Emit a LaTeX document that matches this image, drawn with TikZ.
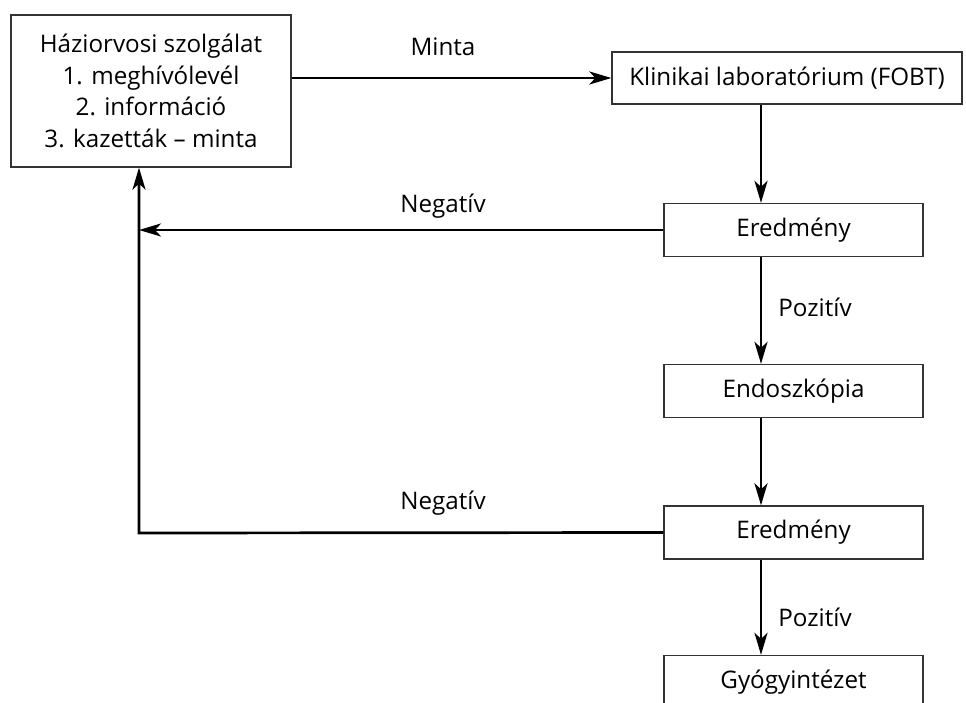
\documentclass[tikz,border=0pt]{standalone}
\usepackage{fontspec}
\setmainfont{Open Sans}
\usetikzlibrary{arrows.meta,positioning}
\tikzset{
    >={Stealth[length=22pt,width=13pt,inset=6pt]},
    doboz/.style={
           rectangle,
           draw=black!80, line width=1.3pt,
           minimum width=259pt,
           minimum height=53pt,
           inner sep=0pt,
           text centered},
    pil/.style={
           ->,
           line width=2.7pt},
    felirat/.style={
           inner sep=0pt}
}

\begin{document}
\begin{tikzpicture}[x=1pt, y=-1pt, font=\fontsize{24.2}{31.5}\selectfont]
        \clip (0,0) rectangle (966,703);
        \node[doboz, minimum width=280pt, minimum height=152pt, align=center] (haz) at (151,91)
            {Háziorvosi szolgálat\\1. meghívólevél\\2. információ\\3. kazetták -- minta};
        \node[doboz, minimum width=350pt, minimum height=52pt] (lab) at (787,78) {Klinikai laboratórium (FOBT)};
        \node[doboz] (ered1) at (793.5,230) {Eredmény};
        \node[doboz] (endo) at (793.5,391) {Endoszkópia};
        \node[doboz] (ered2) at (793.5,532.5) {Eredmény};
        \node[doboz] (gyogy) at (793.5,682) {Gyógyintézet};

        \coordinate (gerinc) at (761,0);
        \coordinate (vissza) at (139,533);

        \node[felirat] (minta) at (443,47) {Minta};
        \node[felirat] (neg1) at (443,206) {Negatív};
        \node[felirat] (neg2) at (443,503) {Negatív};
        \node[felirat] (poz1) at (815,307) {Pozitív};
        \node[felirat] (poz2) at (815,617) {Pozitív};

        \draw[pil] (haz.east |- lab.west) -- (lab.west);
        \draw[pil] (lab.south -| gerinc) -- (ered1.north -| gerinc);
        \draw[pil] (ered1.south -| gerinc) -- (endo.north -| gerinc);
        \draw[pil] (endo.south -| gerinc) -- (ered2.north -| gerinc);
        \draw[pil] (ered2.south -| gerinc) -- (gyogy.north -| gerinc);
        \draw[pil] (ered1.west) -- (vissza |- ered1.west);
        \draw[pil] (ered2.west) -- (vissza) -- (vissza |- haz.south);
    \end{tikzpicture}
\end{document}
